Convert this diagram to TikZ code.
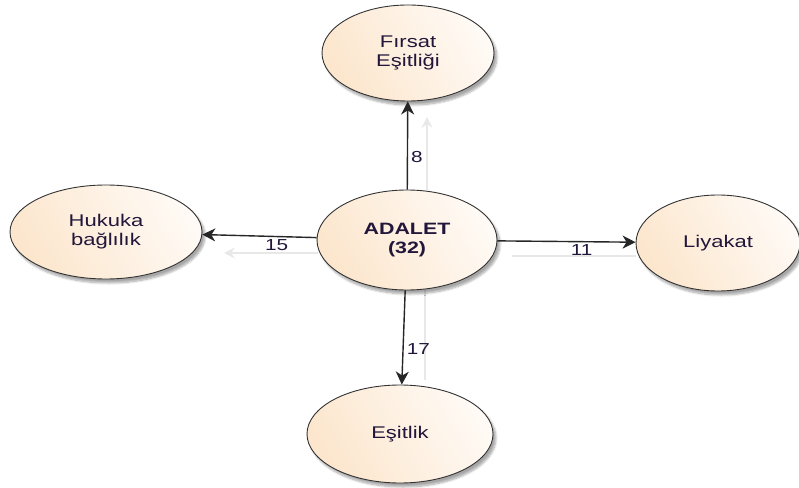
\documentclass[tikz,border=0pt]{standalone}
\usepackage{fontspec}
\setmainfont[FakeStretch=1.3]{Liberation Sans}
\usetikzlibrary{shapes.geometric,arrows.meta,shadows.blur}
\definecolor{peachL}{RGB}{255,250,245}
\definecolor{peachD}{RGB}{252,230,205}
\definecolor{inkc}{RGB}{34,22,58}
\definecolor{ghostc}{RGB}{232,232,232}
\tikzset{
  bubble/.style={ellipse, draw=black!80, line width=0.9bp, inner sep=0pt,
    left color=peachL, right color=peachD, shading angle=-60,
    blur shadow={shadow xshift=3bp, shadow yshift=-4bp, shadow opacity=35, shadow blur steps=8},
    text=inkc, align=center, font=\fontsize{17}{19}\selectfont},
  arr/.style={line width=1.4bp, draw=black!85, -{Stealth[length=13bp,width=13bp,inset=4bp]}},
  ghost/.style={line width=1.4bp, draw=ghostc, -{Stealth[length=11bp,width=11bp,inset=4bp]}},
  ghostline/.style={line width=1.4bp, draw=ghostc},
  lbl/.style={text=inkc, font=\fontsize{16}{16}\selectfont, inner sep=1bp}
}
\begin{document}
\begin{tikzpicture}[x=1bp,y=-1bp]
  \useasboundingbox (0,0) rectangle (799,488);

  % shadow traces of the connectors
  \coordinate (g1a) at (427,190);  \coordinate (g1b) at (427,117);
  \coordinate (g2a) at (318,253);  \coordinate (g2b) at (224,253);
  \coordinate (g3a) at (512,256);  \coordinate (g3b) at (636,256);
  \coordinate (g4a) at (425,290);  \coordinate (g4b) at (425,380);
  \draw[ghost] (g1a) -- (g1b);
  \draw[ghost] (g2a) -- (g2b);
  \draw[ghostline] (g3a) -- (g3b);
  \draw[ghostline] (g4a) -- (g4b);

  % concept bubbles
  \node[bubble, minimum width=172bp, minimum height=96bp] (fs) at (408,53) {Fırsat\\Eşitliği};
  \node[bubble, minimum width=180bp, minimum height=100bp, font=\fontsize{16.5}{19}\selectfont\bfseries] (ad) at (407,240) {ADALET\\(32)};
  \node[bubble, minimum width=192bp, minimum height=94bp] (hk) at (106,232) {Hukuka\\bağlılık};
  \node[bubble, minimum width=164bp, minimum height=96bp] (ly) at (718,243) {Liyakat};
  \node[bubble, minimum width=186bp, minimum height=98bp] (es) at (400,434) {Eşitlik};

  % weighted links
  \draw[arr] (ad) -- (fs) node[lbl, pos=0.37, right=2bp] {8};
  \draw[arr] (ad) -- (hk) node[lbl, pos=0.35, below=1bp] {15};
  \draw[arr] (ad) -- (ly) node[lbl, pos=0.61, below=1bp] {11};
  \draw[arr] (ad) -- (es) node[lbl, pos=0.62, right=2bp] {17};
\end{tikzpicture}
\end{document}
